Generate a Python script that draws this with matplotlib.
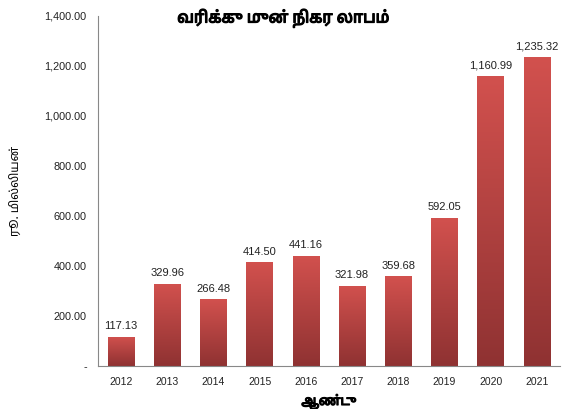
import numpy as np
import matplotlib
matplotlib.use('Agg')
import matplotlib.pyplot as plt
import matplotlib.patheffects as pe
from matplotlib.colors import LinearSegmentedColormap

years = ['2012', '2013', '2014', '2015', '2016', '2017', '2018', '2019', '2020', '2021']
profit = [117.13, 329.96, 266.48, 414.50, 441.16, 321.98, 359.68, 592.05, 1160.99, 1235.32]
yticks = [0, 200, 400, 600, 800, 1000, 1200, 1400]

title = 'வரிக்கு முன் நிகர லாபம்'
ylabel = 'ரூ. மில்லியன்'
xlabel = 'ஆண்டு'

tamil = ['Noto Sans Tamil', 'Lohit Tamil', 'Noto Serif Tamil', 'DejaVu Sans']
plt.rcParams['font.family'] = ['Liberation Sans', 'DejaVu Sans']

fig = plt.figure(figsize=(5.72, 4.09), dpi=100)
ax = fig.add_axes([0.171, 0.105, 0.808, 0.856])

x = np.arange(len(years))
bars = ax.bar(x, profit, width=0.57, color='none', edgecolor='none')

cmap = LinearSegmentedColormap.from_list('red', ['#8f3232', '#d2514e'])
grad = np.linspace(0, 1, 256).reshape(-1, 1)
for b in bars:
    x0, y0 = b.get_x(), b.get_y()
    w, h = b.get_width(), b.get_height()
    im = ax.imshow(grad, extent=[x0, x0 + w, y0, y0 + h], origin='lower',
                   cmap=cmap, aspect='auto', zorder=2)
    im.set_clip_path(b)

for xi, v in zip(x, profit):
    ax.text(xi, v + 22, f'{v:,.2f}', ha='center', va='bottom', fontsize=8, color='#222222')

ax.set_xlim(-0.5, len(years) - 0.5)
ax.set_ylim(0, 1400)
ax.set_xticks(x)
ax.set_xticklabels(years, fontsize=7.5)
ax.set_yticks(yticks)
ax.set_yticklabels(['-' if t == 0 else f'{t:,.2f}' for t in yticks], fontsize=7.8)
ax.tick_params(length=0, pad=8, colors='#222222')
ax.spines['top'].set_visible(False)
ax.spines['right'].set_visible(False)
ax.spines['left'].set_color('#888888')
ax.spines['bottom'].set_color('#888888')

bold = [pe.withStroke(linewidth=0.9, foreground='black')]
ax.set_ylabel(ylabel, family=tamil, fontsize=8.5, labelpad=16)
ax.set_xlabel(xlabel, family=tamil, fontsize=9.5, labelpad=5, path_effects=bold)
fig.text(0.495, 0.955, title, family=tamil, fontsize=11.5, ha='center', va='center',
         path_effects=bold)

fig.savefig('out.png', dpi=100)
